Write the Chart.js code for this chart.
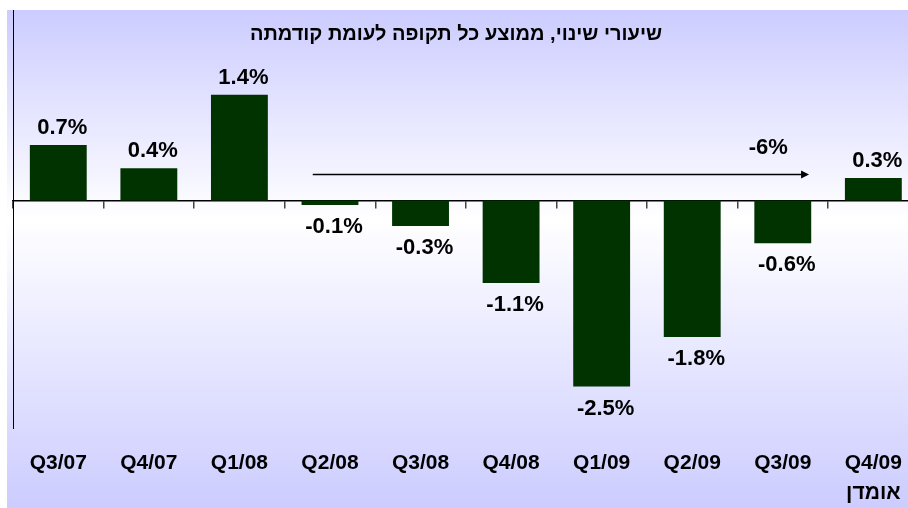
<!DOCTYPE html>
<html>
<head>
<meta charset="utf-8">
<script src="https://cdn.jsdelivr.net/npm/chart.js@4/dist/chart.umd.min.js"></script>
<style>
  html, body { margin: 0; padding: 0; background: #fff; overflow: hidden; }
  #wrap { width: 923px; height: 508px; }
</style>
</head>
<body>
<div id="wrap"><canvas id="chart" width="923" height="508"></canvas></div>
<script>
const titleText = "שיעורי שינוי, ממוצע כל תקופה לעומת קודמתה";
const quarters = ["Q3/07", "Q4/07", "Q1/08", "Q2/08", "Q3/08", "Q4/08", "Q1/09", "Q2/09", "Q3/09", ["Q4/09", "אומדן"]];
const changes = [0.74, 0.43, 1.41, -0.06, -0.34, -1.10, -2.48, -1.82, -0.57, 0.30];

// cumulative arrow over the slump, in category/value units
const arrowFrom = 2.81;
const arrowTo = 8.29;
const arrowLevel = 0.353;
const arrowText = "-6%";
const arrowTextPos = [7.84, 0.707];

const yMin = -3.033;
const yMax = 2.54;

const fontFamily = '"Liberation Sans", Arial, sans-serif';

const backdrop = {
    id: "backdrop",
    beforeDraw(chart) {
        const ctx = chart.ctx;
        ctx.save();
        ctx.fillStyle = "#ffffff";
        ctx.fillRect(0, 0, chart.width, chart.height);
        const grad = ctx.createLinearGradient(0, 10, 0, 508);
        grad.addColorStop(0, "#ccccff");
        grad.addColorStop(0.42, "#ffffff");
        grad.addColorStop(1, "#ccccff");
        ctx.fillStyle = grad;
        ctx.fillRect(7, 10, chart.width - 7, chart.height - 10);
        ctx.restore();
    }
};

const extras = {
    id: "extras",
    afterDatasetsDraw(chart) {
        const ctx = chart.ctx;
        const x = chart.scales.x;
        const y = chart.scales.y;
        ctx.save();

        // title
        ctx.fillStyle = "#000";
        ctx.font = "bold 20px " + fontFamily;
        ctx.textAlign = "center";
        ctx.textBaseline = "alphabetic";
        ctx.direction = "rtl";
        ctx.fillText(titleText, 456, 40);
        ctx.direction = "ltr";

        // value labels
        ctx.font = "bold 22px " + fontFamily;
        const meta = chart.getDatasetMeta(0);
        meta.data.forEach((bar, i) => {
            const v = changes[i];
            const label = v.toFixed(1) + "%";
            const ty = v >= 0 ? bar.y - 11 : bar.y + 28;
            ctx.fillText(label, bar.x + 4, ty);
        });

        // arrow
        const ax1 = x.getPixelForValue(arrowFrom);
        const ax2 = x.getPixelForValue(arrowTo);
        const ay = Math.round(y.getPixelForValue(arrowLevel)) + 0.5;
        ctx.strokeStyle = "#000";
        ctx.lineWidth = 1.5;
        ctx.beginPath();
        ctx.moveTo(ax1, ay);
        ctx.lineTo(ax2 - 6, ay);
        ctx.stroke();
        ctx.beginPath();
        ctx.moveTo(ax2, ay);
        ctx.lineTo(ax2 - 8, ay - 4);
        ctx.lineTo(ax2 - 8, ay + 4);
        ctx.closePath();
        ctx.fill();

        ctx.font = "bold 22px " + fontFamily;
        ctx.textBaseline = "middle";
        ctx.fillText(arrowText, x.getPixelForValue(arrowTextPos[0]), y.getPixelForValue(arrowTextPos[1]));
        ctx.restore();
    }
};

chart = new Chart(document.getElementById("chart"), {
    type: "bar",
    data: {
        labels: quarters,
        datasets: [{
            data: changes,
            backgroundColor: "#003300",
            borderWidth: 0,
            categoryPercentage: 1,
            barPercentage: 0.628
        }]
    },
    options: {
        responsive: false,
        animation: false,
        layout: { padding: { left: 13, right: 1, top: 10, bottom: 0 } },
        plugins: {
            legend: { display: false },
            title: { display: false },
            tooltip: { enabled: false }
        },
        scales: {
            x: {
                offset: true,
                grid: { display: false, drawTicks: false },
                border: { display: false },
                ticks: {
                    color: "#000",
                    padding: 21,
                    maxRotation: 0,
                    autoSkip: false,
                    font: { family: fontFamily, size: 21, weight: "bold", lineHeight: 1.4 }
                },
                afterFit(scale) { scale.height = 80; }
            },
            xZero: {
                type: "category",
                labels: quarters,
                position: { y: 0 },
                offset: true,
                grid: {
                    display: true,
                    offset: true,
                    drawOnChartArea: false,
                    drawTicks: true,
                    tickLength: 7,
                    color: "#444",
                    lineWidth: 1.5
                },
                border: { display: true, color: "#000", width: 1.5 },
                ticks: { display: false }
            },
            y: {
                min: yMin,
                max: yMax,
                grid: { display: false, drawTicks: false },
                border: { display: true, color: "#000", width: 1 },
                ticks: { display: false },
                afterFit(scale) { scale.width = 0; }
            }
        }
    },
    plugins: [backdrop, extras]
});
</script>
</body>
</html>
